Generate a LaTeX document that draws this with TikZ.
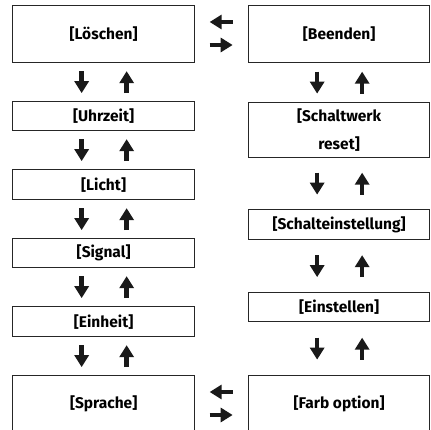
\documentclass[tikz,border=0pt]{standalone}
\usepackage{fontspec}
\setmainfont{Fira Sans}
\usetikzlibrary{arrows.meta,calc}

\tikzset{
	menu/.style={draw=black!85, line width=1.3pt, anchor=north west, inner sep=0pt,
		minimum width=182pt, align=center, font=\fontsize{15.5}{28}\selectfont\bfseries},
	fat/.style={line width=4.5pt, draw=black!90, -{Triangle[width=14pt,length=12pt]}}
}

\begin{document}
\begin{tikzpicture}[x=1pt,y=-1pt]
	\useasboundingbox (0,0) rectangle (431,430);
	% left column
	\node[menu, minimum height=57pt] (loeschen) at (12,5) {[Löschen]};
	\node[menu, minimum height=29pt] (uhrzeit) at (12,101) {[Uhrzeit]};
	\node[menu, minimum height=30pt] (licht) at (12,169) {[Licht]};
	\node[menu, minimum height=29pt] (signal) at (12,238) {[Signal]};
	\node[menu, minimum height=30pt] (einheit) at (12,306) {[Einheit]};
	\node[menu, minimum height=57pt] (sprache) at (12,375) {[Sprache]};
	% right column
	\node[menu, minimum height=57pt, minimum width=181pt] (beenden) at (248,5) {[Beenden]};
	\node[menu, minimum height=55pt, minimum width=181pt] (reset) at (248,102) {[Schaltwerk\\reset]};
	\node[menu, minimum height=30pt, minimum width=181pt] (schalt) at (248,209) {[Schalteinstellung]};
	\node[menu, minimum height=29pt, minimum width=181pt] (einstellen) at (248,292) {[Einstellen]};
	\node[menu, minimum height=57pt, minimum width=181pt] (farb) at (248,375) {[Farb option]};

	% up/down pairs
	\foreach \a/\b in {loeschen/uhrzeit, uhrzeit/licht, licht/signal, signal/einheit,
		einheit/sprache, beenden/reset, reset/schalt, schalt/einstellen, einstellen/farb}{
		\coordinate (mid) at ($(\a.south)!.5!(\b.north)$);
		\draw[fat] ($(mid)+(-22,-11)$) -- ($(mid)+(-22,11)$);
		\draw[fat] ($(mid)+(23,11)$) -- ($(mid)+(23,-11)$);
	}

	% left/right pairs
	\foreach \a/\b in {loeschen/beenden, sprache/farb}{
		\coordinate (mid) at ($(\a.north east)!.5!(\b.north west)$);
		\draw[fat] ($(mid)+(11,17)$) -- ($(mid)+(-12,17)$);
		\draw[fat] ($(mid)+(-12,40)$) -- ($(mid)+(11,40)$);
	}
\end{tikzpicture}
\end{document}
